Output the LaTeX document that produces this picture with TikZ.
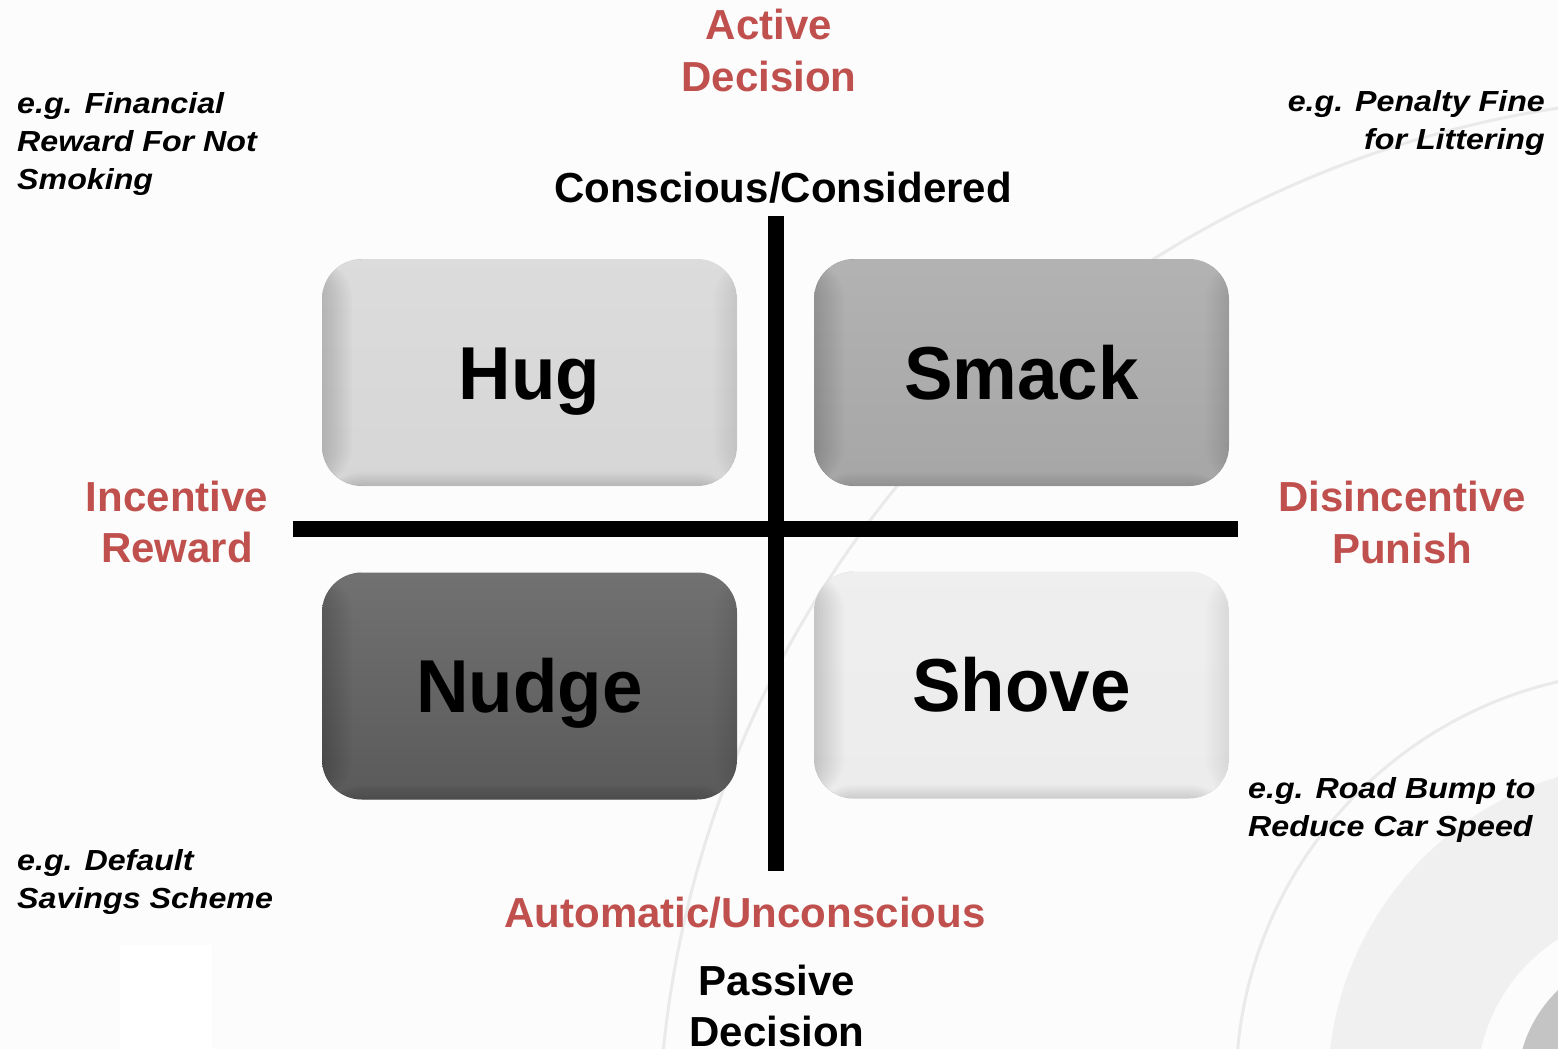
\documentclass[tikz,border=0pt]{standalone}
\usepackage{fontspec}
\setmainfont{Liberation Sans}
\newfontfamily\headfont{Liberation Sans}
\newfontfamily\examplefont{Liberation Sans}[FakeStretch=1.11]
\newfontfamily\boxfont{Liberation Sans}[FakeStretch=0.97]

\definecolor{accent}{HTML}{C0504D}
\definecolor{pagebg}{HTML}{FCFCFC}
\definecolor{ringline}{HTML}{EAEAEA}
\definecolor{ringband}{HTML}{F0F0F0}
\definecolor{ringcore}{HTML}{C4C4C4}
\definecolor{hugfill}{HTML}{D6D6D6}
\definecolor{smackfill}{HTML}{A6A6A6}
\definecolor{nudgefill}{HTML}{5A5A5A}
\definecolor{shovefill}{HTML}{ECECEC}

\tikzset{
  hdr/.style={font=\headfont\bfseries\fontsize{42}{51.5}\selectfont,
    inner sep=0pt, align=center, anchor=base},
  redhdr/.style={hdr, text=accent},
  example/.style={font=\examplefont\bfseries\itshape\fontsize{29}{38.3}\selectfont,
    inner sep=0pt},
  quad/.style={rectangle, rounded corners=40pt, minimum width=415pt,
    minimum height=227pt, inner sep=0pt,
    top color=#1!86!white, middle color=#1, bottom color=#1,
    font=\boxfont\bfseries\fontsize{75}{80}\selectfont,
    text height=53.7pt, text depth=0pt,
    path picture={
      % bevel: stacked translucent strips darken the side and bottom rims
      \foreach \k in {1,...,10} {
        \fill[black, fill opacity=0.012]
          ([yshift=\k*1.4pt]path picture bounding box.south west)
          rectangle (path picture bounding box.south east);
        \fill[black, fill opacity=0.014]
          (path picture bounding box.south west)
          rectangle ([xshift=\k*3pt]path picture bounding box.north west);
        \fill[black, fill opacity=0.008]
          ([xshift=-\k*2.4pt]path picture bounding box.south east)
          rectangle (path picture bounding box.north east);
      }
    }},
  axisline/.style={line width=16pt, black}
}

\begin{document}
\begin{tikzpicture}[x=1pt, y=-1pt]
  \useasboundingbox (0,0) rectangle (1558,1049);

  % page background with its faint rings
  \fill[pagebg] (0,0) rectangle (1558,1049);
  \fill[white] (120,945) rectangle (212,1049);
  \begin{scope}
    \clip (0,0) rectangle (1558,1049);
    \draw[ringline, line width=3pt] (1719,1157) circle (1061pt);
    \draw[ringline, line width=3pt] (1652,1087) circle (416pt);
    \fill[ringband, even odd rule] (1652,1087) circle (324pt) (1652,1087) circle (175pt);
    \fill[ringcore] (1652,1087) circle (135pt);
  \end{scope}

  % axes
  \coordinate (vtop) at (776,216);
  \coordinate (vbot) at (776,871);
  \coordinate (hleft) at (293,529);
  \coordinate (hright) at (1238,529);
  \draw[axisline] (vtop) -- (vbot);
  \draw[axisline] (hleft) -- (hright);

  % quadrants
  \node[quad=hugfill]   (hug)   at (529.5,372.5) {Hug};
  \node[quad=smackfill] (smack) at (1021.5,372.5) {Smack};
  \node[quad=nudgefill] (nudge) at (529.5,686) {Nudge};
  \node[quad=shovefill] (shove) at (1021.5,685) {Shove};

  % axis labels (multi-line nodes sit on the baseline of their last line)
  \node[redhdr] (active) at (769,91.5) {Active\\Decision};
  \node[hdr] (conscious) at (783,202) {Conscious/Considered};
  \node[redhdr] (incentive) at (177,562.5) {Incentive\\Reward};
  \node[redhdr] (disincentive) at (1402,563) {Disincentive\\Punish};
  \node[redhdr] (automatic) at (745,927.5) {Automatic/Unconscious};
  \node[hdr] (passive) at (777,1046.5) {Passive\\Decision};

  % examples
  \node[example, anchor=base west, align=left] (exhug) at (17,189.9)
    {e.g. Financial\\Reward For Not\\Smoking};
  \node[example, anchor=base east, align=right] (exsmack) at (1545,149.8)
    {e.g. Penalty Fine\\for Littering};
  \node[example, anchor=base west, align=left] (exnudge) at (17,908.3)
    {e.g. Default\\Savings Scheme};
  \node[example, anchor=base west, align=left] (exshove) at (1248,836.6)
    {e.g. Road Bump to\\Reduce Car Speed};
\end{tikzpicture}
\end{document}
